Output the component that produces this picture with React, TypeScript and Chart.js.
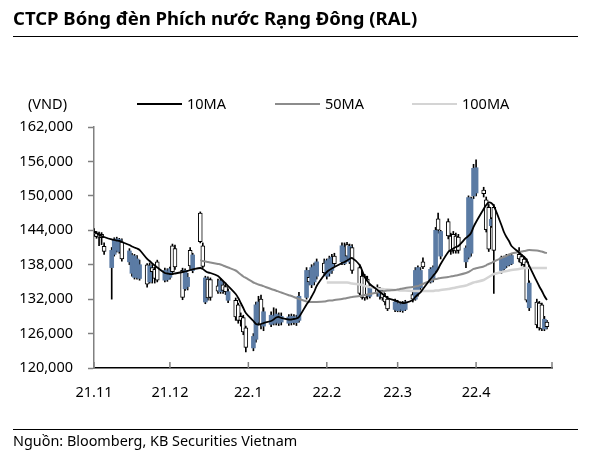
import React, { useEffect, useRef } from "react";
import { Chart, registerables } from "chart.js";

Chart.register(...registerables);

// ---- trading days (weekdays) by month ----
const novDays = [1, 2, 3, 4, 5, 8, 9, 10, 11, 12, 15, 16, 17, 18, 19, 22, 23, 24, 25, 26, 29, 30];
const decDays = [1, 2, 3, 6, 7, 8, 9, 10, 13, 14, 15, 16, 17, 20, 21, 22, 23, 24, 27, 28, 29, 30, 31];
const janDays = [3, 4, 5, 6, 7, 10, 11, 12, 13, 14, 17, 18, 19, 20, 21, 24, 25, 26, 27, 28, 31];
const febDays = [1, 2, 3, 4, 7, 8, 9, 10, 11, 14, 15, 16, 17, 18, 21, 22, 23, 24, 25, 28];
const marDays = [1, 2, 3, 4, 7, 8, 9, 10, 11, 14, 15, 16, 17, 18, 21, 22, 23, 24, 25, 28, 29, 30, 31];
const aprDays = [1, 4, 5, 6, 7, 8, 11, 12, 13, 14, 15, 18, 19, 20, 21, 22, 25, 26, 27, 28, 29];

const monthBlocks: [number, number, number[]][] = [
  [2021, 11, novDays],
  [2021, 12, decDays],
  [2022, 1, janDays],
  [2022, 2, febDays],
  [2022, 3, marDays],
  [2022, 4, aprDays],
];

// ---- OHLC (VND) ----
const opens = [
  // Nov
  143800, 143500, 143400, 143300, 141200, 137500, 139800, 140500, 140300, 142000, 138500, 136500, 135800, 135800, 135600, 138000, 135000, 137500, 137200, 138500, 135300, 135400,
  // Dec
  135800, 141300, 140800, 137000, 133800, 134200, 140500, 137000, 147000, 141300, 131500, 135500, 135400, 134300, 133300, 134500, 134200, 131800, 131800, 131000, 129000, 128800, 127000,
  // Jan
  123500, 125000, 128000, 132000, 127300, 127600, 127800, 128000, 127800, 128000, 127800, 127900, 128000, 127900, 128300, 132300, 135800, 134500, 135000, 136000, 138300,
  // Feb
  136000, 136500, 137000, 139500, 138500, 138200, 141500, 138500, 141000, 137500, 136000, 136000, 135500, 132500, 134000, 132500, 133500, 132500, 132000, 130200,
  // Mar
  130000, 130300, 130000, 130200, 132800, 132000, 133000, 134000, 138500, 135000, 135500, 137000, 146000, 139500, 145500, 143000, 143300, 143000, 142800, 138500, 139300, 140000, 150000,
  // Apr
  150500, 151000, 149300, 148000, 144800, 148000, 137000, 137300, 137800, 138000, 138200, 139800, 139400, 139000, 138500, 130500, 131500, 131300, 131000, 126800, 128000,
];
const highs = [
  144300, 143800, 143700, 143600, 141800, 141000, 142700, 142800, 142600, 142500, 140800, 140000, 139800, 139600, 138800, 138200, 138300, 138000, 137600, 138800, 137400, 137300,
  137600, 141600, 141400, 137400, 137300, 136500, 141000, 140000, 147200, 141800, 136000, 135900, 135700, 135500, 135600, 135000, 134800, 133800, 132200, 131300, 129600, 129200, 127300,
  126000, 131500, 132500, 132700, 130500, 129800, 130500, 130300, 129600, 129600, 129300, 129400, 129300, 129200, 133200, 137500, 137000, 138000, 138300, 139000, 139000,
  139000, 139500, 139800, 140000, 141800, 141800, 141900, 141600, 141500, 138000, 136500, 136300, 136000, 134500, 134500, 134000, 133800, 133000, 132500, 132000,
  131800, 131500, 131600, 131800, 133300, 137500, 137800, 137500, 139200, 137500, 137800, 144500, 147000, 144000, 146000, 143500, 143800, 143500, 143300, 141300, 150000, 149800, 155500,
  156300, 151500, 149800, 148500, 146200, 148500, 139500, 139500, 139800, 139800, 139800, 141000, 139800, 139400, 139000, 135200, 132000, 131600, 131300, 129000, 128300,
];
const lows = [
  143000, 142600, 141300, 141500, 139800, 132000, 139500, 140200, 140000, 138600, 138000, 136000, 135500, 135500, 135300, 134100, 134800, 134800, 134800, 135000, 135000, 135100,
  135500, 136300, 137200, 131900, 133500, 133600, 137200, 136600, 141800, 137500, 131200, 131800, 131800, 133000, 133000, 133000, 132800, 131400, 128300, 127800, 127300, 125800, 122800,
  123000, 124500, 127500, 126800, 126500, 127200, 127500, 127500, 127400, 127500, 127400, 127500, 127600, 127400, 128000, 132000, 134500, 134000, 134500, 135500, 136200,
  135500, 136000, 136500, 137800, 138000, 138000, 139000, 138200, 136500, 132500, 132000, 131800, 132000, 132200, 132500, 132000, 131800, 131000, 130000, 129800,
  129800, 129800, 129700, 130000, 131500, 131800, 132500, 133500, 137300, 134800, 135000, 136800, 143500, 139000, 142500, 139800, 140000, 140000, 140000, 137500, 139000, 139500, 149500,
  150000, 149800, 143700, 140300, 144500, 133000, 136500, 137000, 137500, 137800, 138000, 138500, 137800, 137500, 131500, 130000, 127000, 126600, 126500, 126500, 126800,
];
const closes = [
  143200, 142900, 142800, 142700, 140300, 140500, 142300, 142500, 142400, 139000, 140400, 139600, 139500, 139000, 138000, 134600, 137800, 136800, 135600, 135300, 137000, 136800,
  137300, 136800, 137600, 132300, 137000, 135800, 137800, 139700, 142000, 137700, 135700, 132200, 132300, 133400, 135200, 133500, 133300, 133300, 128900, 128300, 128300, 126300, 123600,
  125500, 131000, 131500, 127500, 129800, 129200, 129000, 129400, 129100, 129000, 128900, 129000, 128900, 128800, 132500, 137000, 135000, 137500, 137800, 138500, 136600,
  138700, 139000, 139300, 138200, 141300, 141000, 139500, 141200, 137000, 133000, 132300, 132200, 132500, 134000, 133000, 133500, 132200, 131500, 130300, 131500,
  131200, 131000, 131300, 131500, 132000, 137000, 137500, 137000, 137600, 137200, 137500, 144000, 144000, 143800, 143000, 140300, 140500, 140400, 140500, 140900, 149700, 149500, 154800,
  154900, 150400, 144100, 140700, 145900, 140500, 139200, 139300, 139500, 139500, 139600, 139000, 138300, 138000, 131800, 134800, 127500, 127000, 126800, 128500, 127200,
];

// ---- moving averages (VND) ----
const ma10 = [
  143700, 143530, 143180, 143010, 142830, 142400, 142310, 142220, 142140, 141960, 141440, 141180, 141000, 140830, 140570, 139000, 138650, 138210, 137870, 137520, 136560, 136470,
  136380, 136380, 136470, 136730, 136820, 136910, 137080, 137170, 137430, 137260, 136910, 136650, 136560, 136040, 135600, 135160, 134730, 134290, 132900, 132200, 131330, 130460, 129590,
  128190, 127670, 127580, 127670, 127840, 128190, 128450, 128800, 128890, 128720, 128450, 128450, 128540, 128630, 128890, 131070, 131680, 132460, 133250, 134290, 136210,
  136730, 137080, 137340, 137600, 138300, 138480, 138740, 139000, 139170, 137950, 136910, 135860, 135160, 134640, 133600, 133250, 132900, 132550, 132200, 131770,
  131590, 131420, 131330, 131330, 131850, 132380, 132810, 133160, 133770, 135510, 136040, 136560, 137260, 138130, 140220, 140570, 140830, 141090, 141260, 142660, 143010, 143530, 144580,
  145450, 147710, 148410, 148850, 148760, 148240, 144920, 143700, 142830, 142140, 141260, 140130, 139700, 139350, 138820, 137780, 135080, 134210, 133420, 132550, 131850,
];
const ma50: (number | null)[] = [
  null, null, null, null, null, null, null, null, null, null, null, null, null, null, null, null, null, null, null, null, null, null,
  null, null, null, null, null, null, null, null, 138820, 138650, 138560, 138480, 138390, 138130, 138040, 137870, 137690, 137520, 136990, 136650, 136300, 135950, 135690,
  134900, 134730, 134550, 134420, 134260, 133770, 133630, 133470, 133320, 133160, 132690, 132550, 132380, 132200, 132030, 131590, 131500, 131500, 131500, 131500, 131590,
  131680, 131770, 131770, 131850, 132030, 132110, 132200, 132290, 132380, 132550, 132640, 132720, 132810, 132900, 133160, 133250, 133330, 133420, 133510, 133600,
  133680, 133770, 133860, 133940, 134120, 134210, 134290, 134470, 134640, 135250, 135430, 135510, 135600, 135690, 135860, 135950, 136040, 136120, 136210, 136560, 136730, 136990, 137260,
  137400, 137690, 137900, 138130, 138300, 138560, 139170, 139350, 139520, 139780, 139960, 140220, 140310, 140390, 140480, 140570, 140480, 140390, 140310, 140130, 140040,
];
const ma100: (number | null)[] = [
  null, null, null, null, null, null, null, null, null, null, null, null, null, null, null, null, null, null, null, null, null, null,
  null, null, null, null, null, null, null, null, null, null, null, null, null, null, null, null, null, null, null, null, null, null, null,
  null, null, null, null, null, null, null, null, null, null, null, null, null, null, null, null, null, null, null, null, null,
  134900, 134900, 134900, 134900, 134900, 134900, 134900, 134820, 134730, 134550, 134470, 134290, 134210, 134120, 133860, 133770, 133770, 133680, 133680, 133600,
  133600, 133510, 133510, 133510, 133420, 133420, 133420, 133420, 133420, 133420, 133420, 133510, 133510, 133600, 133770, 133860, 133940, 134030, 134120, 134380, 134550, 134730, 134900,
  135000, 135340, 135600, 135860, 136120, 136380, 136730, 136820, 136910, 136990, 137080, 137260, 137340, 137430, 137430, 137430, 137430, 137430, 137430, 137430, 137430,
];

// ---- axis ticks ----
const tickLabels = ["21.11", "21.12", "22.1", "22.2", "22.3", "22.4", ""];
const tickDates: [number, number][] = [
  [2021, 11], [2021, 12], [2022, 1], [2022, 2], [2022, 3], [2022, 4], [2022, 5],
];
const yTicks = [120000, 126000, 132000, 138000, 144000, 150000, 156000, 162000];

const BLUE = "#5b7ba4";
const FONT = "'Noto Sans', sans-serif";
const AXIS_FONT = 14.5;
const ORIGIN = Date.UTC(2021, 10, 1);
const dayOf = (y: number, m: number, d: number) => Math.round((Date.UTC(y, m - 1, d) - ORIGIN) / 86400000);

const xs: number[] = [];
monthBlocks.forEach(([y, m, days]) => days.forEach((d) => xs.push(dayOf(y, m, d))));
const tickValues = tickDates.map(([y, m]) => dayOf(y, m, 1));

const xTickMarks = {
  id: "xTickMarks",
  afterDraw(chart: any) {
    const { ctx, chartArea } = chart;
    const xs2 = chart.scales.x;
    ctx.save();
    ctx.strokeStyle = "#808080";
    ctx.lineWidth = 1.5;
    tickValues.forEach((v) => {
      const px = xs2.getPixelForValue(v);
      ctx.beginPath();
      ctx.moveTo(px, chartArea.bottom);
      ctx.lineTo(px, chartArea.bottom - 6);
      ctx.stroke();
    });
    ctx.restore();
  },
};

function CandleChart() {
  const ref = useRef<HTMLCanvasElement | null>(null);
  useEffect(() => {
    if (!ref.current) return;
    const up = closes.map((c, i) => c >= opens[i]);
    const linePts = (arr: (number | null)[]) =>
      arr.map((v, i) => (v == null ? null : { x: xs[i], y: v })).filter((p) => p !== null);
    const chart = new Chart(ref.current, {
      type: "bar",
      data: {
        datasets: [
          {
            type: "line",
            label: "10MA",
            data: linePts(ma10) as any,
            borderColor: "#000000",
            borderWidth: 1.8,
            pointRadius: 0,
            tension: 0.3,
            order: 0,
          } as any,
          {
            type: "line",
            label: "50MA",
            data: linePts(ma50) as any,
            borderColor: "#8c8c8c",
            borderWidth: 2,
            pointRadius: 0,
            tension: 0.3,
            order: 0,
          } as any,
          {
            type: "line",
            label: "100MA",
            data: linePts(ma100) as any,
            borderColor: "#d4d4d4",
            borderWidth: 2.5,
            pointRadius: 0,
            tension: 0.3,
            order: 0,
          } as any,
          {
            label: "body",
            data: xs.map((x, i) => ({ x, y: [Math.min(opens[i], closes[i]), Math.max(opens[i], closes[i])] })) as any,
            backgroundColor: up.map((u) => (u ? BLUE : "#ffffff")),
            borderColor: up.map((u) => (u ? BLUE : "#000000")),
            borderWidth: up.map((u) => (u ? 0 : 1)),
            borderSkipped: false,
            barThickness: 4,
            grouped: false,
            order: 1,
          } as any,
          {
            label: "wick",
            data: xs.map((x, i) => ({ x, y: [lows[i], highs[i]] })) as any,
            backgroundColor: "#000000",
            borderWidth: 0,
            barThickness: 1,
            grouped: false,
            order: 2,
          } as any,
        ],
      },
      options: {
        animation: false,
        responsive: false,
        devicePixelRatio: 1,
        layout: { padding: { left: 0, top: 127, right: 43, bottom: 0 } },
        plugins: { legend: { display: false }, tooltip: { enabled: false }, title: { display: false } },
        scales: {
          x: {
            type: "linear",
            offset: false,
            min: 0,
            max: tickValues[tickValues.length - 1],
            afterBuildTicks: (s: any) => {
              s.ticks = tickValues.map((v) => ({ value: v }));
            },
            afterFit: (s: any) => {
              s.height = 91;
            },
            grid: { display: true, drawOnChartArea: false, drawTicks: false, color: "#808080" },
            border: { display: true, color: "#000000", width: 1.5 },
            ticks: {
              autoSkip: false,
              maxRotation: 0,
              padding: 16,
              color: "#000000",
              font: { family: FONT, size: AXIS_FONT },
              callback: (v: any) => {
                const idx = tickValues.indexOf(Number(v));
                return idx >= 0 ? tickLabels[idx] : "";
              },
            },
          },
          y: {
            type: "linear",
            min: yTicks[0],
            max: yTicks[yTicks.length - 1],
            afterBuildTicks: (s: any) => {
              s.ticks = yTicks.map((v) => ({ value: v }));
            },
            afterFit: (s: any) => {
              s.width = 94;
            },
            grid: { drawOnChartArea: false, drawTicks: true, tickLength: 6, color: "#808080", tickWidth: 1.5 },
            border: { display: true, color: "#808080", width: 1.5 },
            ticks: {
              padding: 15,
              color: "#000000",
              font: { family: FONT, size: AXIS_FONT },
              callback: (v: any) => Number(v).toLocaleString("en-US"),
            },
          },
        },
      } as any,
      plugins: [xTickMarks],
    });
    return () => chart.destroy();
  }, []);
  return <canvas ref={ref} width={595} height={459} style={{ position: "absolute", left: 0, top: 0 }} />;
}

const legendItems: [string, string, number, number][] = [
  ["10MA", "#000000", 137, 2],
  ["50MA", "#8c8c8c", 275, 2],
  ["100MA", "#d4d4d4", 412, 2.5],
];

export default function App() {
  return (
    <div style={{ position: "absolute", left: 0, top: 0, width: 595, height: 459, background: "#fff", fontFamily: FONT, color: "#000" }}>
      <CandleChart />
      <div style={{ position: "absolute", left: 13, top: 6, fontSize: 18.5, fontWeight: 700, lineHeight: "24px", whiteSpace: "nowrap" }}>
        CTCP Bóng đèn Phích nước Rạng Đông (RAL)
      </div>
      <div style={{ position: "absolute", left: 13, top: 36, width: 565, height: 1, background: "#000" }} />
      <div style={{ position: "absolute", left: 28, top: 94, fontSize: AXIS_FONT, lineHeight: "18px" }}>(VND)</div>
      {legendItems.map(([name, color, x, w]) => (
        <React.Fragment key={name}>
          <div style={{ position: "absolute", left: x, top: 104 - w / 2, width: 45, height: w, background: color }} />
          <div style={{ position: "absolute", left: x + 50, top: 94, fontSize: AXIS_FONT, lineHeight: "18px" }}>{name}</div>
        </React.Fragment>
      ))}
      <div style={{ position: "absolute", left: 13, top: 429, width: 565, height: 1, background: "#000" }} />
      <div style={{ position: "absolute", left: 13, top: 432, fontSize: 14.4, lineHeight: "18px", whiteSpace: "nowrap" }}>
        Nguồn: Bloomberg, KB Securities Vietnam
      </div>
    </div>
  );
}
